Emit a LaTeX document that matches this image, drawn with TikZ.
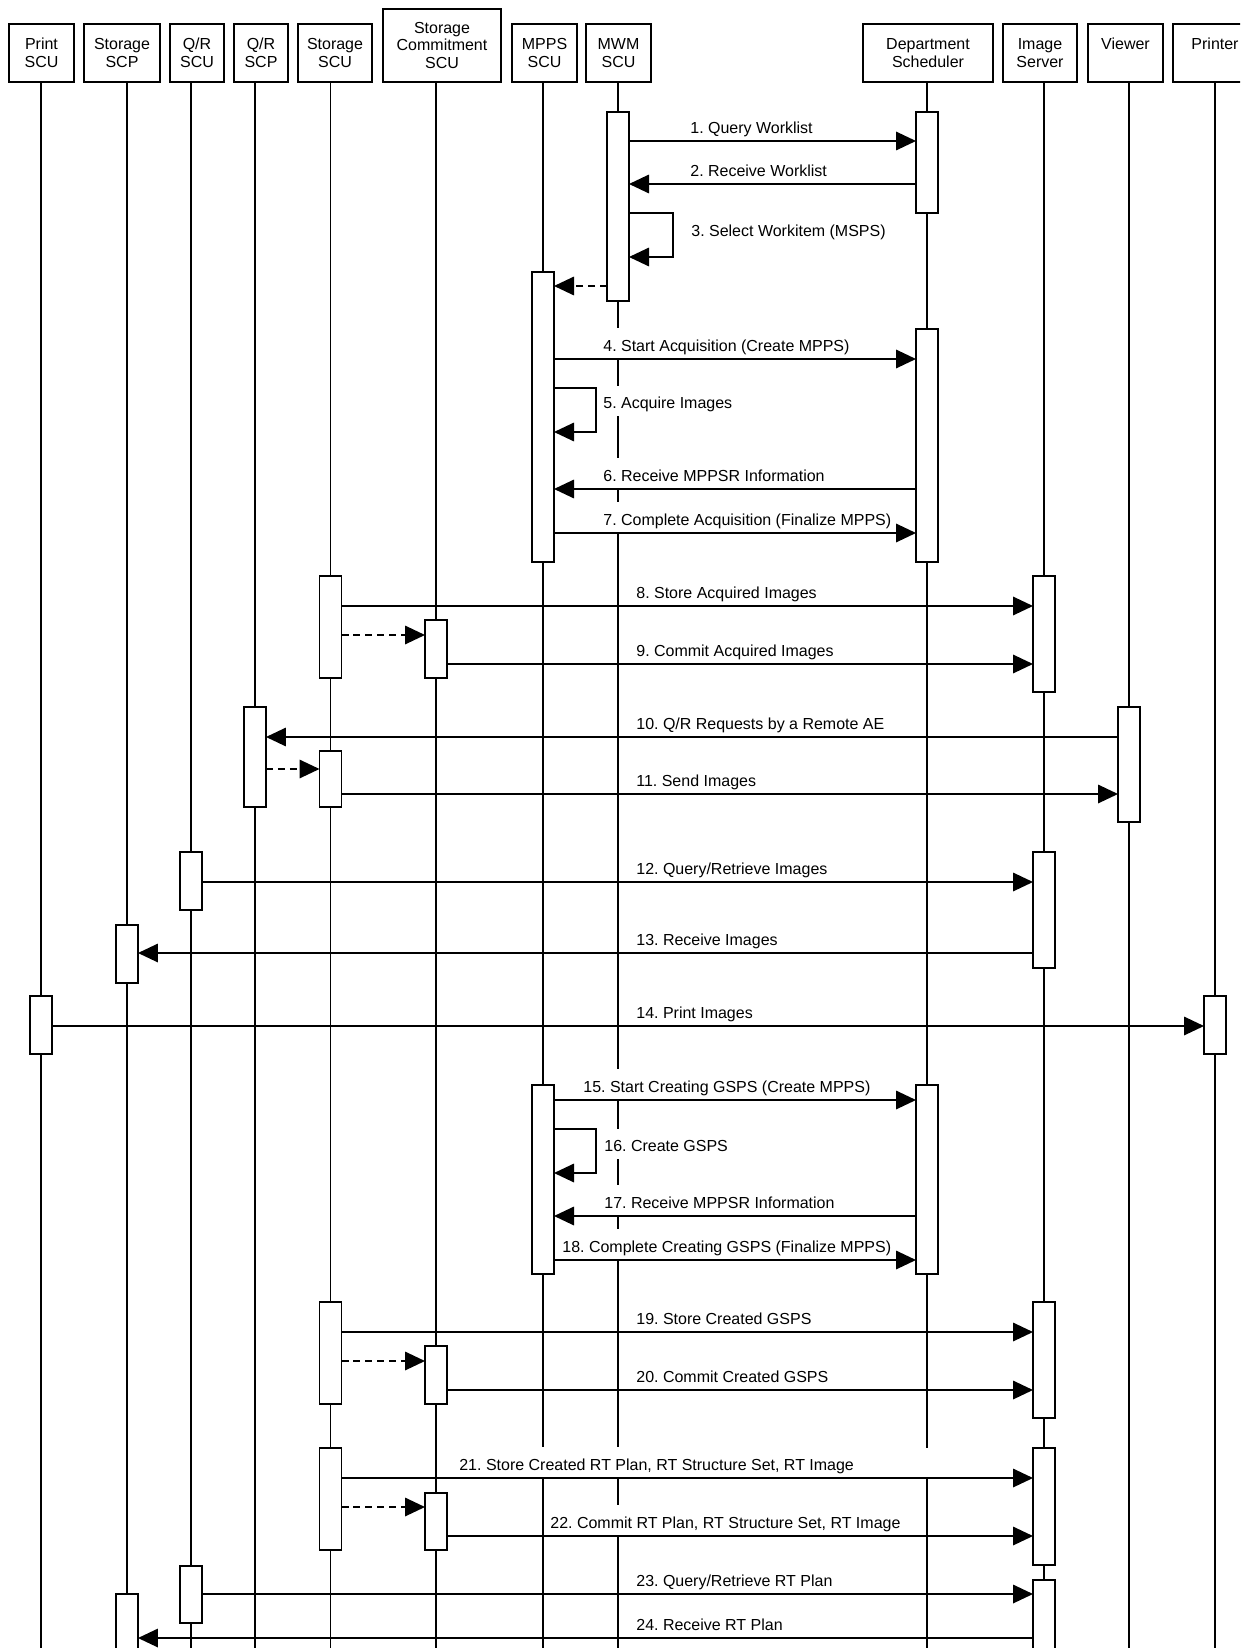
\documentclass[tikz,border=0pt]{standalone}
\usepackage{fontspec}
\setmainfont{Liberation Sans}
\usetikzlibrary{arrows.meta}
\frenchspacing
\tikzset{
  head/.style={draw, line width=1pt, align=center, inner sep=0pt, minimum height=1.16cm, font=\fontsize{9.1}{10.2}\selectfont},
  life/.style={line width=1pt},
  act/.style={draw, fill=white, line width=1pt, inner sep=0pt, outer sep=0pt, minimum width=0.44cm},
  msg/.style={line width=1pt, -{Triangle[length=0.4cm, width=0.37cm]}},
  ret/.style={msg, dash pattern=on 4pt off 2.8pt},
  lbl/.style={fill=white, anchor=south west, xshift=-3pt, inner xsep=3pt, inner ysep=0pt, text height=13pt, text depth=4.25pt, font=\fontsize{9.1}{10.2}\selectfont},
}
% activation bar: name, x, top, bottom (in px)
\newcommand{\actbar}[4]{%
  \pgfmathsetmacro{\acth}{(#4-#3)*0.02}%
  \pgfmathsetmacro{\actm}{(#3+#4)/2}%
  \node[act, minimum height=\acth cm] (#1) at (#2,\actm) {};}

\begin{document}
\begin{tikzpicture}[x=0.02cm, y=-0.02cm]
\useasboundingbox (0,0) rectangle (1240,1648);
\clip (0,0) rectangle (1240,1648);

% Heads
\node[head, minimum width=1.30cm] (hdPrt) at (41.5,53) {Print\\SCU};
\node[head, minimum width=1.52cm] (hdSscp) at (122,53) {Storage\\SCP};
\node[head, minimum width=1.08cm] (hdQrscu) at (197,53) {Q/R\\SCU};
\node[head, minimum width=1.08cm] (hdQrscp) at (261,53) {Q/R\\SCP};
\node[head, minimum width=1.48cm] (hdSscu) at (335,53) {Storage\\SCU};
\node[head, minimum width=2.36cm, minimum height=1.46cm] (hdStcm) at (442,45.5) {Storage\\Commitment\\SCU};
\node[head, minimum width=1.30cm] (hdMpps) at (544.5,53) {MPPS\\SCU};
\node[head, minimum width=1.30cm] (hdMwm) at (618.5,53) {MWM\\SCU};
\node[head, minimum width=2.60cm] (hdDept) at (928,53) {Department\\Scheduler};
\node[head, minimum width=1.48cm] (hdImgs) at (1040,53) {Image\\Server};
\node[head, minimum width=1.50cm] (hdView) at (1125.5,53) {Viewer\\\phantom{V}};
\node[head, minimum width=1.68cm] (hdPtr) at (1215,53) {Printer\\\phantom{P}};

% Lifelines
\draw[life] (hdPrt.south -| 41,0) -- (41,1700);
\draw[life] (hdSscp.south -| 127,0) -- (127,1700);
\draw[life] (hdQrscu.south -| 191,0) -- (191,1700);
\draw[life] (hdQrscp.south -| 255,0) -- (255,1700);
\draw[life] (hdSscu.south -| 330.5,0) -- (330.5,1700);
\draw[life] (hdStcm.south -| 436,0) -- (436,1700);
\draw[life] (hdMpps.south -| 543,0) -- (543,1448) (543,1478) -- (543,1700);
\draw[life] (hdMwm.south -| 618,0) -- (618,1448) (618,1478) -- (618,1700);
\draw[life] (hdDept.south -| 927,0) -- (927,1448) (927,1478) -- (927,1700);
\draw[life] (hdImgs.south -| 1044,0) -- (1044,1700);
\draw[life] (hdView.south -| 1129,0) -- (1129,1700);
\draw[life] (hdPtr.south -| 1215,0) -- (1215,1700);

% Labels
\node[lbl] (m1) at (690,141) {1. Query Worklist};
\node[lbl] (m2) at (690,184) {2. Receive Worklist};
\node[lbl] (m3) at (691,244.5) {3. Select Workitem (MSPS)};
\node[lbl] (m4) at (603,359) {4. Start Acquisition (Create MPPS)};
\node[lbl] (m5) at (603,416.5) {5. Acquire Images};
\node[lbl] (m6) at (603,489) {6. Receive MPPSR Information};
\node[lbl] (m7) at (603,533) {7. Complete Acquisition (Finalize MPPS)};
\node[lbl] (m8) at (636,606) {8. Store Acquired Images};
\node[lbl] (m9) at (636,664) {9. Commit Acquired Images};
\node[lbl] (m10) at (636,737) {10. Q/R Requests by a Remote AE};
\node[lbl] (m11) at (636,794) {11. Send Images};
\node[lbl] (m12) at (636,882) {12. Query/Retrieve Images};
\node[lbl] (m13) at (636,953) {13. Receive Images};
\node[lbl] (m14) at (636,1026) {14. Print Images};
\node[lbl] (m15) at (583,1100) {15. Start Creating GSPS (Create MPPS)};
\node[lbl] (m16) at (604,1159.5) {16. Create GSPS};
\node[lbl] (m17) at (604,1216) {17. Receive MPPSR Information};
\node[lbl] (m18) at (562,1260) {18. Complete Creating GSPS (Finalize MPPS)};
\node[lbl] (m19) at (636,1332) {19. Store Created GSPS};
\node[lbl] (m20) at (636,1390) {20. Commit Created GSPS};
\node[lbl] (m21) at (459,1478) {21. Store Created RT Plan, RT Structure Set, RT Image};
\node[lbl] (m22) at (550,1536) {22. Commit RT Plan, RT Structure Set, RT Image};
\node[lbl] (m23) at (636,1594) {23. Query/Retrieve RT Plan};
\node[lbl] (m24) at (636,1638) {24. Receive RT Plan};

% Activations
\actbar{mwmA}{618}{112}{301}
\actbar{deptA}{927}{112}{213}
\actbar{mppsA}{543}{272}{562}
\actbar{deptB}{927}{329}{562}
\actbar{sscuA}{330.5}{576}{678}
\actbar{imgsA}{1044}{576}{692}
\actbar{stcmA}{436}{620}{678}
\actbar{qrscpA}{255}{707}{807}
\actbar{viewA}{1129}{707}{822}
\actbar{sscuB}{330.5}{751}{807}
\actbar{qrscuA}{191}{852}{910}
\actbar{imgsB}{1044}{852}{968}
\actbar{sscpA}{127}{925}{983}
\actbar{prtA}{41}{996}{1054}
\actbar{ptrA}{1215}{996}{1054}
\actbar{mppsB}{543}{1085}{1274}
\actbar{deptC}{927}{1085}{1274}
\actbar{sscuC}{330.5}{1302}{1404}
\actbar{imgsC}{1044}{1302}{1418}
\actbar{stcmB}{436}{1346}{1404}
\actbar{sscuD}{330.5}{1448}{1550}
\actbar{imgsD}{1044}{1448}{1565}
\actbar{stcmC}{436}{1493}{1550}
\actbar{qrscuB}{191}{1566}{1623}
\actbar{imgsE}{1044}{1580}{1700}
\actbar{sscpB}{127}{1594}{1700}

% Messages
\draw[msg] (mwmA.east |- 0,141) -- (deptA.west |- 0,141);
\draw[msg] (deptA.west |- 0,184) -- (mwmA.east |- 0,184);
\draw[msg] (mwmA.east |- 0,213) -| (673,257) -- (mwmA.east |- 0,257);
\draw[ret] (mwmA.west |- 0,286) -- (mppsA.east |- 0,286);
\draw[msg] (mppsA.east |- 0,359) -- (deptB.west |- 0,359);
\draw[msg] (mppsA.east |- 0,388) -| (596,432) -- (mppsA.east |- 0,432);
\draw[msg] (deptB.west |- 0,489) -- (mppsA.east |- 0,489);
\draw[msg] (mppsA.east |- 0,533) -- (deptB.west |- 0,533);
\draw[msg] (sscuA.east |- 0,606) -- (imgsA.west |- 0,606);
\draw[ret] (sscuA.east |- 0,635) -- (stcmA.west |- 0,635);
\draw[msg] (stcmA.east |- 0,664) -- (imgsA.west |- 0,664);
\draw[msg] (viewA.west |- 0,737) -- (qrscpA.east |- 0,737);
\draw[ret] (qrscpA.east |- 0,769) -- (sscuB.west |- 0,769);
\draw[msg] (sscuB.east |- 0,794) -- (viewA.west |- 0,794);
\draw[msg] (qrscuA.east |- 0,882) -- (imgsB.west |- 0,882);
\draw[msg] (imgsB.west |- 0,953) -- (sscpA.east |- 0,953);
\draw[msg] (prtA.east |- 0,1026) -- (ptrA.west |- 0,1026);
\draw[msg] (mppsB.east |- 0,1100) -- (deptC.west |- 0,1100);
\draw[msg] (mppsB.east |- 0,1129) -| (596,1173) -- (mppsB.east |- 0,1173);
\draw[msg] (deptC.west |- 0,1216) -- (mppsB.east |- 0,1216);
\draw[msg] (mppsB.east |- 0,1260) -- (deptC.west |- 0,1260);
\draw[msg] (sscuC.east |- 0,1332) -- (imgsC.west |- 0,1332);
\draw[ret] (sscuC.east |- 0,1361) -- (stcmB.west |- 0,1361);
\draw[msg] (stcmB.east |- 0,1390) -- (imgsC.west |- 0,1390);
\draw[msg] (sscuD.east |- 0,1478) -- (imgsD.west |- 0,1478);
\draw[ret] (sscuD.east |- 0,1507) -- (stcmC.west |- 0,1507);
\draw[msg] (stcmC.east |- 0,1536) -- (imgsD.west |- 0,1536);
\draw[msg] (qrscuB.east |- 0,1594) -- (imgsE.west |- 0,1594);
\draw[msg] (imgsE.west |- 0,1638) -- (sscpB.east |- 0,1638);

\end{tikzpicture}
\end{document}
